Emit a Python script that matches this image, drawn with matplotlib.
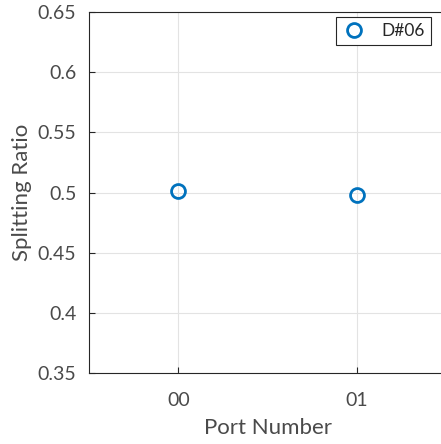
import numpy as np
import matplotlib.pyplot as plt

plt.rcParams['font.family'] = ['Lato', 'DejaVu Sans']

# data
ports = ['00', '01']
ratios = [0.5015, 0.498]
label = 'D#06'

fig = plt.figure(figsize=(4.41, 4.44), dpi=100)
# right side of the axes runs past the figure edge like in the reference
ax = fig.add_axes([89/441, 71/444, 357/441, 361/444])

x = np.arange(len(ports))
ax.plot(x, ratios, 'o', mfc='none', mec='#0072BD', mew=2, ms=10, label=label)

ax.set_xlim(-0.5, 1.5)
ax.set_ylim(0.35, 0.65)
ax.set_xticks(x)
ax.set_xticklabels(ports)
ax.set_yticks(np.arange(0.35, 0.651, 0.05))
ax.set_yticklabels(['0.35', '0.4', '0.45', '0.5', '0.55', '0.6', '0.65'])
ax.grid(True, color='#e3e3e3', lw=0.8)
ax.set_axisbelow(True)
ax.tick_params(direction='in', length=4, colors='#262626', labelcolor='#4a4a4a', labelsize=14)
ax.tick_params(axis='x', pad=14)
ax.tick_params(axis='y', pad=9)
for s in ax.spines.values():
    s.set_color('#262626')
    s.set_linewidth(0.8)

ax.set_xlabel('Port Number', fontsize=16, color='#4a4a4a', labelpad=6)
ax.set_ylabel('Splitting Ratio', fontsize=16, color='#4a4a4a', labelpad=4)

leg = ax.legend(loc='upper right', bbox_to_anchor=(431/441, 1 - 17/444), bbox_transform=fig.transFigure,
                fontsize=12.5, fancybox=False, edgecolor='#262626', framealpha=1,
                handletextpad=0.9, borderpad=0.35, handlelength=1.4, borderaxespad=0)
leg.get_frame().set_linewidth(0.8)
for t in leg.get_texts():
    t.set_color('#262626')

fig.savefig('out.png', dpi=100)
